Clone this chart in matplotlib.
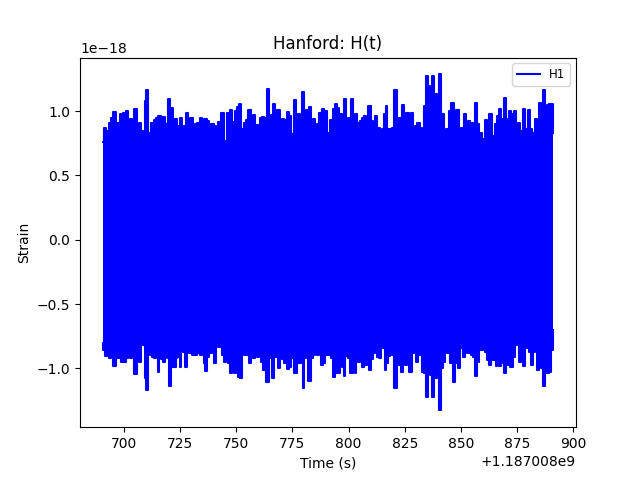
import numpy as np
import matplotlib
matplotlib.use("Agg")
import matplotlib.pyplot as plt

# GPS time offset of the segment (s)
t0 = 1187008000.0

# upper envelope of the H1 strain trace (time in s after t0, strain in 1e-18)
t_upper = [690.6, 691.76, 692.93, 693.82, 694.7, 695.9, 697.4, 699.3, 700.3, 701.35,
           702.2, 703.1, 704.15, 705.3, 706.2, 707.1, 708.3, 709.2, 709.76, 710.5,
           711.5, 712.7, 713.9, 714.9, 716.0, 717.0, 718.0, 719.1, 720.1, 721.3,
           722.3, 723.3, 724.4, 725.25, 726.3, 727.3, 728.2, 729.1, 730.0, 731.2,
           732.2, 733.4, 734.4, 735.3, 736.3, 737.4, 738.4, 739.6, 740.6, 741.3,
           742.8, 744.0, 745.2, 746.4, 747.8, 748.9, 749.9, 750.9, 751.8, 752.9,
           754.0, 755.1, 755.8, 757.0, 758.0, 759.2, 760.2, 761.3, 762.1, 763.0,
           764.1, 765.1, 765.8, 766.7, 767.6, 768.8, 770.0, 770.9, 771.9, 772.9,
           774.0, 775.0, 776.2, 777.1, 778.0, 779.1, 779.9, 780.8, 781.6, 782.8,
           783.8, 784.6, 785.8, 786.5, 787.5, 788.7, 789.8, 790.9, 792.3, 793.6,
           794.5, 795.4, 796.5, 797.4, 798.2, 799.3, 800.5, 801.4, 802.4, 803.5,
           804.4, 805.4, 806.4, 807.3, 808.3, 809.4, 810.4, 811.4, 812.3, 813.4,
           814.4, 815.3, 816.2, 816.9, 817.6, 818.7, 819.7, 820.9, 821.9, 823.1,
           824.1, 825.2, 826.2, 827.1, 828.1, 829.2, 830.0, 831.1, 832.1, 833.0,
           833.9, 834.8, 835.7, 836.5, 837.4, 838.3, 839.0, 839.8, 840.7, 841.8,
           842.9, 844.1, 845.2, 846.3, 847.3, 848.5, 849.7, 850.7, 851.6, 852.6,
           853.7, 854.7, 855.7, 856.6, 857.6, 858.8, 860.0, 861.0, 862.1, 863.2,
           864.4, 865.5, 866.3, 867.4, 868.4, 869.4, 870.6, 871.8, 872.8, 873.9,
           874.6, 875.8, 876.8, 878.0, 879.2, 880.2, 881.2, 882.3, 883.2, 884.2,
           885.1, 886.0, 886.7, 887.6, 888.5, 889.5, 890.5, 891.1]
h_upper = [0.76, 0.872, 0.846, 0.910, 0.949, 0.993, 0.910, 0.975, 0.988, 1.001,
           0.846, 0.936, 0.885, 1.014, 0.769, 0.910, 0.846, 0.833, 1.078, 1.163,
           0.833, 0.905, 0.929, 0.949, 0.962, 0.954, 0.954, 0.898, 1.096, 1.027,
           0.936, 0.936, 0.885, 0.944, 0.820, 0.885, 0.988, 0.872, 0.949, 0.885,
           0.898, 0.910, 0.949, 0.910, 0.936, 0.923, 0.885, 0.898, 0.885, 0.769,
           0.916, 0.983, 0.769, 0.983, 1.006, 0.916, 1.001, 1.032, 1.052, 0.859,
           0.910, 0.929, 1.006, 0.846, 0.967, 0.892, 0.880, 0.949, 0.954, 0.949,
           1.168, 0.864, 0.967, 1.052, 0.794, 1.006, 0.859, 0.936, 0.929, 0.996,
           0.962, 0.825, 1.086, 0.903, 0.980, 0.898, 1.150, 0.910, 1.006, 1.034,
           0.872, 0.936, 0.880, 0.898, 0.988, 1.014, 1.001, 0.833, 0.929, 1.019,
           1.052, 1.027, 0.975, 0.898, 1.091, 0.833, 0.949, 1.091, 0.910, 0.975,
           0.910, 0.923, 0.949, 0.962, 0.885, 1.040, 0.923, 0.794, 0.962, 0.872,
           0.846, 0.859, 0.975, 1.040, 0.859, 0.859, 0.872, 1.161, 0.944, 0.949,
           1.047, 0.929, 0.988, 0.936, 0.988, 0.756, 0.885, 0.910, 0.872, 0.807,
           1.040, 1.272, 1.194, 1.065, 1.272, 1.065, 1.130, 1.065, 1.285, 0.975,
           0.794, 0.859, 1.001, 1.065, 0.872, 1.006, 0.859, 0.872, 0.975, 0.916,
           0.923, 0.910, 0.910, 1.065, 0.898, 0.833, 0.781, 0.929, 0.885, 0.975,
           0.807, 0.898, 0.962, 1.014, 0.936, 1.104, 0.936, 1.001, 0.975, 1.001,
           0.833, 0.910, 0.846, 1.014, 0.859, 1.006, 0.859, 0.833, 0.936, 0.923,
           1.065, 1.014, 1.161, 1.006, 1.045, 1.052, 1.052, 0.833]

# lower envelope of the H1 strain trace
t_lower = [690.6, 691.3, 692.2, 692.9, 693.8, 694.7, 695.9, 697.1, 697.5, 698.2,
           699.3, 700.5, 701.5, 702.2, 703.1, 704.15, 705.3, 706.2, 707.1, 708.3,
           709.0, 709.6, 710.5, 711.4, 712.1, 712.9, 713.9, 714.8, 715.4, 716.4,
           717.0, 717.9, 718.8, 719.6, 720.5, 721.6, 722.8, 723.3, 723.9, 724.7,
           725.25, 726.1, 727.0, 727.9, 728.8, 729.7, 731.0, 732.2, 733.4, 734.4,
           735.3, 735.9, 736.8, 737.7, 738.5, 739.6, 740.6, 741.5, 742.4, 743.1,
           744.0, 745.0, 745.8, 746.7, 747.7, 748.6, 749.5, 750.3, 751.2, 752.1,
           753.0, 754.0, 755.2, 756.2, 757.1, 758.0, 758.9, 759.9, 760.8, 761.6,
           762.3, 763.0, 763.9, 765.0, 765.7, 766.6, 767.5, 768.2, 769.1, 770.1,
           771.0, 772.0, 772.9, 773.8, 774.6, 775.4, 776.3, 777.4, 778.4, 779.3,
           780.0, 780.8, 781.6, 782.7, 783.6, 784.6, 785.5, 786.4, 787.1, 788.0,
           789.2, 790.2, 791.1, 791.7, 792.5, 793.4, 794.6, 795.7, 796.7, 797.4,
           798.2, 799.0, 800.1, 801.1, 801.9, 802.4, 803.2, 803.8, 804.7, 805.5,
           806.4, 807.0, 807.9, 808.6, 809.4, 810.3, 811.1, 812.0, 812.9, 813.8,
           814.7, 815.6, 816.5, 817.0, 817.9, 818.8, 819.7, 820.9, 821.9, 822.7,
           823.7, 824.7, 825.6, 826.5, 827.5, 828.6, 829.5, 830.3, 831.2, 832.1,
           833.0, 833.9, 834.8, 835.6, 836.5, 837.4, 838.3, 839.0, 839.8, 840.7,
           841.6, 842.4, 843.3, 844.4, 845.4, 846.3, 846.9, 847.6, 848.3, 849.2,
           850.3, 851.3, 852.2, 853.1, 853.9, 854.8, 855.7, 856.6, 857.5, 858.5,
           859.6, 860.3, 861.0, 862.1, 863.1, 864.0, 864.9, 865.8, 866.6, 867.5,
           868.0, 868.7, 869.6, 870.5, 871.4, 872.4, 873.4, 874.3, 875.2, 876.1,
           877.0, 877.9, 878.7, 879.8, 880.8, 881.7, 882.6, 883.2, 884.2, 884.9,
           885.8, 886.7, 887.6, 888.6, 889.7, 890.4, 891.1]
h_lower = [-0.800, -0.857, -0.903, -0.896, -0.921, -0.877, -0.981, -0.921, -0.818, -0.921,
           -0.952, -0.952, -0.921, -0.883, -0.921, -0.852, -1.045, -0.818, -0.947, -0.813,
           -0.818, -1.076, -1.171, -0.800, -0.896, -0.908, -0.921, -0.883, -1.025, -0.896,
           -0.929, -0.947, -0.921, -0.877, -1.135, -0.986, -0.986, -0.921, -0.818, -0.908,
           -0.986, -0.852, -0.870, -0.986, -0.857, -0.883, -0.896, -0.896, -0.883, -0.896,
           -0.844, -0.960, -1.017, -0.908, -0.883, -0.870, -0.960, -0.741, -0.831, -0.831,
           -0.896, -0.947, -0.800, -0.955, -1.032, -0.921, -1.037, -1.006, -1.068, -1.076,
           -0.831, -0.896, -0.896, -0.955, -0.792, -0.921, -0.826, -0.914, -0.857, -0.947,
           -1.012, -0.836, -1.102, -0.921, -0.818, -1.076, -0.908, -0.818, -0.999, -0.818,
           -0.929, -0.960, -1.006, -0.986, -0.702, -0.921, -1.037, -0.960, -0.955, -0.896,
           -1.153, -0.921, -0.896, -1.094, -0.921, -0.896, -0.818, -0.896, -0.870, -0.973,
           -0.960, -0.896, -0.857, -0.896, -0.921, -1.063, -1.037, -1.037, -0.973, -0.986,
           -1.058, -0.903, -0.921, -1.032, -1.032, -0.852, -1.032, -0.908, -0.947, -0.921,
           -0.986, -0.896, -0.973, -0.896, -1.012, -0.929, -0.883, -0.779, -0.908, -0.921,
           -0.805, -0.844, -1.012, -0.960, -0.903, -0.818, -0.896, -1.153, -0.896, -0.973,
           -1.025, -0.947, -0.973, -0.960, -1.025, -0.883, -0.767, -0.947, -0.857, -0.896,
           -1.025, -1.037, -1.223, -0.999, -1.050, -1.223, -1.012, -1.076, -0.947, -1.326,
           -0.999, -0.947, -0.818, -0.883, -0.960, -0.960, -1.102, -0.857, -0.960, -0.999,
           -0.844, -0.908, -0.870, -0.883, -0.883, -0.896, -0.908, -1.058, -0.947, -0.857,
           -0.857, -0.767, -0.870, -0.934, -0.973, -0.934, -0.934, -0.981, -0.973, -0.981,
           -0.826, -0.960, -1.037, -0.896, -0.973, -0.986, -0.908, -0.818, -0.748, -0.947,
           -0.844, -0.981, -0.831, -0.844, -0.870, -0.973, -0.870, -0.831, -1.012, -0.870,
           -0.999, -1.135, -1.037, -1.037, -1.025, -0.857, -0.702]

tu = t0 + np.array(t_upper)
hu = np.array(h_upper) * 1e-18
tl = t0 + np.array(t_lower)
hl = np.array(h_lower) * 1e-18

fig, ax = plt.subplots(figsize=(6.4, 4.8), dpi=100)

# dense trace rendered as its filled envelope
ax.fill_between(tu, 0, hu, step='mid', color='b', linewidth=0)
ax.fill_between(tl, hl, 0, step='mid', color='b', linewidth=0)
ax.step(tu, hu, where='mid', color='b', linewidth=1.5, label='H1')
ax.step(tl, hl, where='mid', color='b', linewidth=1.5)

ax.set_title('Hanford: H(t)')
ax.set_xlabel('Time (s)')
ax.set_ylabel('Strain')
ax.legend(loc='upper right', fontsize='small')

fig.savefig('out.png', dpi=100)
